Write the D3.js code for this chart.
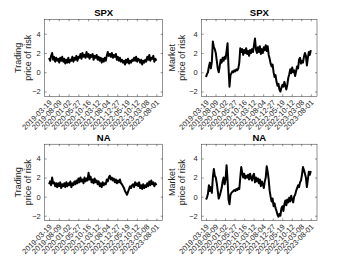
<!DOCTYPE html>
<html>
<head>
<meta charset="utf-8">
<script src="https://cdn.jsdelivr.net/npm/d3@7"></script>
<style>
  body { margin: 0; background: #fff; }
  svg { display: block; }
  text { font-family: "Liberation Sans", Arial, sans-serif; }
</style>
</head>
<body>
<div id="chart"></div>
<script>
// tick labels on the x axis (one every 100 trading days)
const tickDates = ["2019-03-19","2019-08-09","2020-01-02","2020-05-27","2020-10-16","2021-03-12",
  "2021-08-04","2021-12-27","2022-05-19","2022-10-12","2023-03-08","2023-08-01"];
const tickDays = [0,100,200,300,400,500,600,700,800,900,1000,1100];
const yTicks = [-2,0,2,4];

// series, evenly spaced from day 0 to day 1100
const spxTrading = [1.5,1.2,1.7,2.0,1.3,1.6,1.1,1.5,1.2,1.4,1.0,1.5,1.2,1.6,1.1,
  1.4,0.9,1.3,1.0,1.5,1.0,1.3,1.2,1.6,1.1,1.5,1.3,1.7,1.2,1.6,
  1.5,1.9,1.4,2.0,1.6,1.8,1.5,2.1,1.6,1.9,1.4,1.8,1.6,1.9,1.3,1.7,1.5,1.8,1.3,1.6,
  1.2,1.5,1.0,1.4,1.1,1.5,1.2,1.7,2.1,1.7,1.9,1.6,2.0,1.5,1.8,1.6,1.9,
  1.3,1.6,1.2,1.5,1.1,1.3,1.0,1.2,0.8,1.3,1.0,1.4,0.9,1.2,1.0,1.3,
  1.2,1.5,1.2,1.6,1.1,1.4,1.3,1.0,1.3,0.8,1.2,1.0,1.3,1.1,
  1.6,1.3,1.8,1.2,1.5,1.4,1.7,1.1,1.4,1.2];

const spxMarket = [-0.5,-0.2,0.0,0.6,1.0,0.4,1.1,3.2,2.6,2.4,2.0,1.2,0.4,0.0,0.6,1.3,1.0,1.5,1.2,1.6,
  1.4,2.2,3.0,0.5,-1.5,-0.3,-0.1,0.1,0.0,0.2,0.1,0.3,0.2,0.4,1.0,2.5,2.1,2.4,1.8,2.3,
  2.0,2.5,1.9,2.2,1.7,2.3,2.0,2.4,2.1,2.8,3.5,2.4,2.0,2.6,2.1,2.7,1.9,2.4,2.0,2.6,
  2.3,2.8,2.2,2.7,1.8,1.4,0.9,0.6,0.8,0.0,-0.5,-0.3,-1.0,-1.4,-1.2,-1.8,-2.0,-1.6,-1.3,-1.5,
  -1.0,-1.4,-1.8,-1.3,-0.6,-0.2,0.3,-0.1,0.5,0.0,0.2,-0.4,0.1,0.6,0.4,1.3,1.5,0.9,1.2,1.0,
  1.6,2.0,1.7,0.7,1.5,2.1,1.8,2.3];

const naTrading = [1.3,1.6,1.2,2.0,1.4,1.5,1.1,1.4,1.0,1.4,1.1,1.5,0.9,1.3,1.1,1.4,1.0,
  1.5,1.1,1.4,1.2,1.6,1.0,1.4,1.2,1.6,1.3,1.7,1.4,1.9,1.5,2.0,1.6,1.8,1.4,2.0,1.6,
  1.9,1.7,2.5,1.8,2.1,1.5,1.8,1.4,1.9,1.5,1.7,1.3,1.6,1.1,1.4,1.0,1.5,1.2,1.4,1.3,
  1.8,1.6,2.0,2.2,1.8,2.0,1.7,1.9,1.5,1.8,1.4,1.7,1.5,1.8,1.4,1.3,1.1,0.9,
  0.6,0.4,0.2,0.5,0.8,1.1,0.9,1.2,1.3,1.0,1.5,1.2,1.4,1.1,1.5,
  0.9,1.2,0.8,1.3,0.9,1.2,1.0,1.4,1.1,1.6,1.2,1.7,1.3,1.5,1.1,1.4,1.2];

const naMarket = [-0.3,-0.1,0.3,1.2,0.6,1.0,0.4,2.0,2.9,2.2,2.0,1.4,0.6,-0.2,0.1,0.5,0.9,1.6,2.0,1.3,
  1.8,3.3,1.8,-0.3,-0.8,0.2,0.4,0.5,0.6,0.7,0.6,0.8,0.7,0.9,0.8,2.0,3.1,2.5,2.0,2.4,
  1.9,2.2,2.0,2.3,1.8,2.4,2.0,1.7,2.2,2.4,1.5,2.0,1.6,1.9,1.4,1.8,1.1,1.6,1.3,0.9,
  1.6,2.0,3.2,2.6,1.8,0.6,0.0,-0.5,-0.2,-1.0,-0.7,-1.2,-1.5,-1.9,-2.1,-1.8,-2.0,-1.2,-1.0,-1.5,
  -0.8,-0.4,-0.9,-0.3,-0.6,-0.1,-0.5,0.1,-0.3,-0.6,0.0,0.2,0.6,0.9,1.2,1.0,1.5,1.7,2.3,3.1,
  2.8,2.4,2.0,1.0,1.8,2.6,2.3,2.7];

const width = 350, height = 263;
const xDomain = [-45, 1165], yDomain = [-2.5, 5.5];
const cols = [{x0: 44.7, x1: 162.7, labelOff: 23.5}, {x0: 201.7, x1: 317, labelOff: 27}];
const rows = [{y0: 19.3, y1: 96.3}, {y0: 144.2, y1: 220.5}];
const axisColor = "#262626";

const panels = [
  {title: "SPX", label: ["Trading", "price of risk"], values: spxTrading, col: 0, row: 0},
  {title: "SPX", label: ["Market", "price of risk"], values: spxMarket, col: 1, row: 0},
  {title: "NA", label: ["Trading", "price of risk"], values: naTrading, col: 0, row: 1},
  {title: "NA", label: ["Market", "price of risk"], values: naMarket, col: 1, row: 1}
];

const svg = d3.select("#chart").append("svg")
  .attr("width", width)
  .attr("height", height);

panels.forEach(p => {
  const c = cols[p.col], r = rows[p.row];
  const x = d3.scaleLinear().domain(xDomain).range([c.x0, c.x1]);
  const y = d3.scaleLinear().domain(yDomain).range([r.y1, r.y0]);
  const n = p.values.length;
  const day = i => i * 1100 / (n - 1);

  const g = svg.append("g");

  // data line
  g.append("path")
    .datum(p.values)
    .attr("fill", "none")
    .attr("stroke", "#000")
    .attr("stroke-width", 2)
    .attr("stroke-linejoin", "round")
    .attr("d", d3.line().x((d, i) => x(day(i))).y(d => y(d)));

  // box
  g.append("rect")
    .attr("x", c.x0).attr("y", r.y0)
    .attr("width", c.x1 - c.x0).attr("height", r.y1 - r.y0)
    .attr("fill", "none")
    .attr("stroke", axisColor)
    .attr("stroke-width", 0.5);

  // axes with inward ticks (MATLAB style)
  const xb = g.append("g")
    .attr("transform", "translate(0," + r.y1 + ")")
    .call(d3.axisBottom(x).tickValues(tickDays).tickFormat((d, i) => tickDates[i])
      .tickSizeInner(-2).tickSizeOuter(0));
  xb.selectAll("text")
    .attr("x", 0).attr("y", 0).attr("dy", "0.35em")
    .attr("transform", "translate(1,5) rotate(-45)")
    .style("text-anchor", "end");

  g.append("g")
    .attr("transform", "translate(0," + r.y0 + ")")
    .call(d3.axisTop(x).tickValues(tickDays).tickFormat("").tickSizeInner(-2).tickSizeOuter(0));

  g.append("g")
    .attr("transform", "translate(" + c.x0 + ",0)")
    .call(d3.axisLeft(y).tickValues(yTicks).tickSizeInner(-2).tickSizeOuter(0).tickPadding(4));

  g.append("g")
    .attr("transform", "translate(" + c.x1 + ",0)")
    .call(d3.axisRight(y).tickValues(yTicks).tickFormat("").tickSizeInner(-2).tickSizeOuter(0));

  g.selectAll(".domain").remove();
  g.selectAll(".tick line").attr("stroke", axisColor).attr("stroke-width", 0.5);
  g.selectAll(".tick text")
    .attr("fill", axisColor)
    .style("font-size", "7.5px")
    .style("font-family", '"Liberation Sans", Arial, sans-serif');

  // title
  g.append("text")
    .attr("x", (c.x0 + c.x1) / 2)
    .attr("y", r.y0 - 3)
    .attr("text-anchor", "middle")
    .style("font-size", "9.5px")
    .style("font-weight", "bold")
    .attr("fill", "#000")
    .text(p.title);

  // y label, two lines
  const cy = (r.y0 + r.y1) / 2;
  g.append("text")
    .attr("transform", "translate(" + (c.x0 - c.labelOff) + "," + cy + ") rotate(-90)")
    .attr("text-anchor", "middle")
    .attr("fill", axisColor)
    .style("font-size", "9px")
    .selectAll("tspan")
    .data(p.label)
    .join("tspan")
    .attr("x", 0)
    .attr("dy", (d, i) => i === 0 ? "0em" : "1.1em")
    .text(d => d);
});
</script>
</body>
</html>
